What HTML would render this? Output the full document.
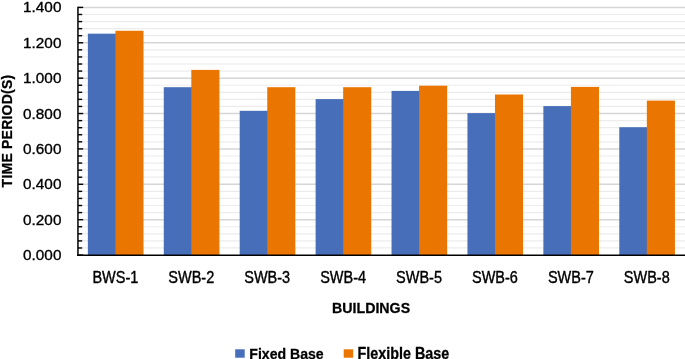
<!DOCTYPE html><html><head><meta charset="utf-8"><style>html,body{margin:0;padding:0;background:#fff;}svg{display:block;will-change:transform}text{font-family:"Liberation Sans",sans-serif;fill:#000}.n{stroke:#000;stroke-width:0.35}.b{stroke:#000;stroke-width:0.25}</style></head><body>
<svg width="685" height="359" viewBox="0 0 685 359">
<rect width="685" height="359" fill="#fff"/>
<line x1="77.95" y1="247.97" x2="685" y2="247.97" stroke="#ececec" stroke-width="1.2"/>
<line x1="77.95" y1="240.90" x2="685" y2="240.90" stroke="#ececec" stroke-width="1.2"/>
<line x1="77.95" y1="233.82" x2="685" y2="233.82" stroke="#ececec" stroke-width="1.2"/>
<line x1="77.95" y1="226.75" x2="685" y2="226.75" stroke="#ececec" stroke-width="1.2"/>
<line x1="77.95" y1="219.67" x2="685" y2="219.67" stroke="#d6d6d6" stroke-width="1.5"/>
<line x1="77.95" y1="212.60" x2="685" y2="212.60" stroke="#ececec" stroke-width="1.2"/>
<line x1="77.95" y1="205.52" x2="685" y2="205.52" stroke="#ececec" stroke-width="1.2"/>
<line x1="77.95" y1="198.44" x2="685" y2="198.44" stroke="#ececec" stroke-width="1.2"/>
<line x1="77.95" y1="191.37" x2="685" y2="191.37" stroke="#ececec" stroke-width="1.2"/>
<line x1="77.95" y1="184.29" x2="685" y2="184.29" stroke="#d6d6d6" stroke-width="1.5"/>
<line x1="77.95" y1="177.22" x2="685" y2="177.22" stroke="#ececec" stroke-width="1.2"/>
<line x1="77.95" y1="170.14" x2="685" y2="170.14" stroke="#ececec" stroke-width="1.2"/>
<line x1="77.95" y1="163.07" x2="685" y2="163.07" stroke="#ececec" stroke-width="1.2"/>
<line x1="77.95" y1="155.99" x2="685" y2="155.99" stroke="#ececec" stroke-width="1.2"/>
<line x1="77.95" y1="148.91" x2="685" y2="148.91" stroke="#d6d6d6" stroke-width="1.5"/>
<line x1="77.95" y1="141.84" x2="685" y2="141.84" stroke="#ececec" stroke-width="1.2"/>
<line x1="77.95" y1="134.76" x2="685" y2="134.76" stroke="#ececec" stroke-width="1.2"/>
<line x1="77.95" y1="127.69" x2="685" y2="127.69" stroke="#ececec" stroke-width="1.2"/>
<line x1="77.95" y1="120.61" x2="685" y2="120.61" stroke="#ececec" stroke-width="1.2"/>
<line x1="77.95" y1="113.54" x2="685" y2="113.54" stroke="#d6d6d6" stroke-width="1.5"/>
<line x1="77.95" y1="106.46" x2="685" y2="106.46" stroke="#ececec" stroke-width="1.2"/>
<line x1="77.95" y1="99.38" x2="685" y2="99.38" stroke="#ececec" stroke-width="1.2"/>
<line x1="77.95" y1="92.31" x2="685" y2="92.31" stroke="#ececec" stroke-width="1.2"/>
<line x1="77.95" y1="85.23" x2="685" y2="85.23" stroke="#ececec" stroke-width="1.2"/>
<line x1="77.95" y1="78.16" x2="685" y2="78.16" stroke="#d6d6d6" stroke-width="1.5"/>
<line x1="77.95" y1="71.08" x2="685" y2="71.08" stroke="#ececec" stroke-width="1.2"/>
<line x1="77.95" y1="64.01" x2="685" y2="64.01" stroke="#ececec" stroke-width="1.2"/>
<line x1="77.95" y1="56.93" x2="685" y2="56.93" stroke="#ececec" stroke-width="1.2"/>
<line x1="77.95" y1="49.85" x2="685" y2="49.85" stroke="#ececec" stroke-width="1.2"/>
<line x1="77.95" y1="42.78" x2="685" y2="42.78" stroke="#d6d6d6" stroke-width="1.5"/>
<line x1="77.95" y1="35.70" x2="685" y2="35.70" stroke="#ececec" stroke-width="1.2"/>
<line x1="77.95" y1="28.63" x2="685" y2="28.63" stroke="#ececec" stroke-width="1.2"/>
<line x1="77.95" y1="21.55" x2="685" y2="21.55" stroke="#ececec" stroke-width="1.2"/>
<line x1="77.95" y1="14.48" x2="685" y2="14.48" stroke="#ececec" stroke-width="1.2"/>
<line x1="77.95" y1="7.40" x2="685" y2="7.40" stroke="#d6d6d6" stroke-width="1.5"/>
<rect x="87.85" y="33.67" width="28.55" height="221.38" fill="#466eb9"/>
<rect x="115.40" y="30.75" width="28.10" height="224.30" fill="#ea7500"/>
<rect x="163.77" y="87.2" width="28.55" height="167.85" fill="#466eb9"/>
<rect x="191.32" y="69.9" width="28.10" height="185.15" fill="#ea7500"/>
<rect x="239.69" y="110.8" width="28.55" height="144.25" fill="#466eb9"/>
<rect x="267.24" y="87.2" width="28.10" height="167.85" fill="#ea7500"/>
<rect x="315.61" y="99.1" width="28.55" height="155.95" fill="#466eb9"/>
<rect x="343.16" y="87.2" width="28.10" height="167.85" fill="#ea7500"/>
<rect x="391.53" y="90.9" width="28.55" height="164.15" fill="#466eb9"/>
<rect x="419.08" y="85.7" width="28.10" height="169.35" fill="#ea7500"/>
<rect x="467.45" y="113.1" width="28.55" height="141.95" fill="#466eb9"/>
<rect x="495.00" y="94.5" width="28.10" height="160.55" fill="#ea7500"/>
<rect x="543.37" y="106.1" width="28.55" height="148.95" fill="#466eb9"/>
<rect x="570.92" y="86.9" width="28.10" height="168.15" fill="#ea7500"/>
<rect x="619.29" y="127.2" width="28.55" height="127.85" fill="#466eb9"/>
<rect x="646.84" y="100.6" width="28.10" height="154.45" fill="#ea7500"/>
<line x1="77.95" y1="255.05" x2="83.2" y2="255.05" stroke="#000" stroke-width="1.4"/>
<line x1="77.95" y1="247.97" x2="82.2" y2="247.97" stroke="#000" stroke-width="1.4"/>
<line x1="77.95" y1="240.90" x2="82.2" y2="240.90" stroke="#000" stroke-width="1.4"/>
<line x1="77.95" y1="233.82" x2="82.2" y2="233.82" stroke="#000" stroke-width="1.4"/>
<line x1="77.95" y1="226.75" x2="82.2" y2="226.75" stroke="#000" stroke-width="1.4"/>
<line x1="77.95" y1="219.67" x2="83.2" y2="219.67" stroke="#000" stroke-width="1.4"/>
<line x1="77.95" y1="212.60" x2="82.2" y2="212.60" stroke="#000" stroke-width="1.4"/>
<line x1="77.95" y1="205.52" x2="82.2" y2="205.52" stroke="#000" stroke-width="1.4"/>
<line x1="77.95" y1="198.44" x2="82.2" y2="198.44" stroke="#000" stroke-width="1.4"/>
<line x1="77.95" y1="191.37" x2="82.2" y2="191.37" stroke="#000" stroke-width="1.4"/>
<line x1="77.95" y1="184.29" x2="83.2" y2="184.29" stroke="#000" stroke-width="1.4"/>
<line x1="77.95" y1="177.22" x2="82.2" y2="177.22" stroke="#000" stroke-width="1.4"/>
<line x1="77.95" y1="170.14" x2="82.2" y2="170.14" stroke="#000" stroke-width="1.4"/>
<line x1="77.95" y1="163.07" x2="82.2" y2="163.07" stroke="#000" stroke-width="1.4"/>
<line x1="77.95" y1="155.99" x2="82.2" y2="155.99" stroke="#000" stroke-width="1.4"/>
<line x1="77.95" y1="148.91" x2="83.2" y2="148.91" stroke="#000" stroke-width="1.4"/>
<line x1="77.95" y1="141.84" x2="82.2" y2="141.84" stroke="#000" stroke-width="1.4"/>
<line x1="77.95" y1="134.76" x2="82.2" y2="134.76" stroke="#000" stroke-width="1.4"/>
<line x1="77.95" y1="127.69" x2="82.2" y2="127.69" stroke="#000" stroke-width="1.4"/>
<line x1="77.95" y1="120.61" x2="82.2" y2="120.61" stroke="#000" stroke-width="1.4"/>
<line x1="77.95" y1="113.54" x2="83.2" y2="113.54" stroke="#000" stroke-width="1.4"/>
<line x1="77.95" y1="106.46" x2="82.2" y2="106.46" stroke="#000" stroke-width="1.4"/>
<line x1="77.95" y1="99.38" x2="82.2" y2="99.38" stroke="#000" stroke-width="1.4"/>
<line x1="77.95" y1="92.31" x2="82.2" y2="92.31" stroke="#000" stroke-width="1.4"/>
<line x1="77.95" y1="85.23" x2="82.2" y2="85.23" stroke="#000" stroke-width="1.4"/>
<line x1="77.95" y1="78.16" x2="83.2" y2="78.16" stroke="#000" stroke-width="1.4"/>
<line x1="77.95" y1="71.08" x2="82.2" y2="71.08" stroke="#000" stroke-width="1.4"/>
<line x1="77.95" y1="64.01" x2="82.2" y2="64.01" stroke="#000" stroke-width="1.4"/>
<line x1="77.95" y1="56.93" x2="82.2" y2="56.93" stroke="#000" stroke-width="1.4"/>
<line x1="77.95" y1="49.85" x2="82.2" y2="49.85" stroke="#000" stroke-width="1.4"/>
<line x1="77.95" y1="42.78" x2="83.2" y2="42.78" stroke="#000" stroke-width="1.4"/>
<line x1="77.95" y1="35.70" x2="82.2" y2="35.70" stroke="#000" stroke-width="1.4"/>
<line x1="77.95" y1="28.63" x2="82.2" y2="28.63" stroke="#000" stroke-width="1.4"/>
<line x1="77.95" y1="21.55" x2="82.2" y2="21.55" stroke="#000" stroke-width="1.4"/>
<line x1="77.95" y1="14.48" x2="82.2" y2="14.48" stroke="#000" stroke-width="1.4"/>
<line x1="77.95" y1="7.40" x2="83.2" y2="7.40" stroke="#000" stroke-width="1.4"/>
<line x1="77.95" y1="6.7" x2="77.95" y2="255.9" stroke="#000" stroke-width="1.5"/>
<line x1="77.2" y1="255.20000000000002" x2="685" y2="255.20000000000002" stroke="#000" stroke-width="1.4"/>
<text class="n" x="61.4" y="260.05" font-size="15.3" text-anchor="end">0.000</text>
<text class="n" x="61.4" y="224.67" font-size="15.3" text-anchor="end">0.200</text>
<text class="n" x="61.4" y="189.29" font-size="15.3" text-anchor="end">0.400</text>
<text class="n" x="61.4" y="153.91" font-size="15.3" text-anchor="end">0.600</text>
<text class="n" x="61.4" y="118.54" font-size="15.3" text-anchor="end">0.800</text>
<text class="n" x="61.4" y="83.16" font-size="15.3" text-anchor="end">1.000</text>
<text class="n" x="61.4" y="47.78" font-size="15.3" text-anchor="end">1.200</text>
<text class="n" x="61.4" y="12.40" font-size="15.3" text-anchor="end">1.400</text>
<text class="n" transform="translate(115.36,282.7) scale(1,1.08)" font-size="14.5" text-anchor="middle">BWS-1</text>
<text class="n" transform="translate(191.28,282.7) scale(1,1.08)" font-size="14.5" text-anchor="middle">SWB-2</text>
<text class="n" transform="translate(267.20,282.7) scale(1,1.08)" font-size="14.5" text-anchor="middle">SWB-3</text>
<text class="n" transform="translate(343.12,282.7) scale(1,1.08)" font-size="14.5" text-anchor="middle">SWB-4</text>
<text class="n" transform="translate(419.04,282.7) scale(1,1.08)" font-size="14.5" text-anchor="middle">SWB-5</text>
<text class="n" transform="translate(494.96,282.7) scale(1,1.08)" font-size="14.5" text-anchor="middle">SWB-6</text>
<text class="n" transform="translate(570.88,282.7) scale(1,1.08)" font-size="14.5" text-anchor="middle">SWB-7</text>
<text class="n" transform="translate(646.80,282.7) scale(1,1.08)" font-size="14.5" text-anchor="middle">SWB-8</text>
<text class="b" transform="translate(371.1,312.9) scale(1,1.07)" font-size="14.2" font-weight="bold" text-anchor="middle">BUILDINGS</text>
<text class="b" transform="translate(12.0,131.0) rotate(-90)" font-size="14" font-weight="bold" text-anchor="middle" letter-spacing="0.22">TIME PERIOD(S)</text>
<rect x="235.2" y="349.3" width="9.5" height="8.4" fill="#466eb9"/>
<text class="b" transform="translate(249.3,358.9) scale(1,1.09)" font-size="14.1" font-weight="bold">Fixed Base</text>
<rect x="343.7" y="349.3" width="9.5" height="8.4" fill="#ea7500"/>
<text class="b" transform="translate(357.6,358.9) scale(1,1.09)" font-size="14.35" font-weight="bold">Flexible Base</text>
</svg></body></html>
